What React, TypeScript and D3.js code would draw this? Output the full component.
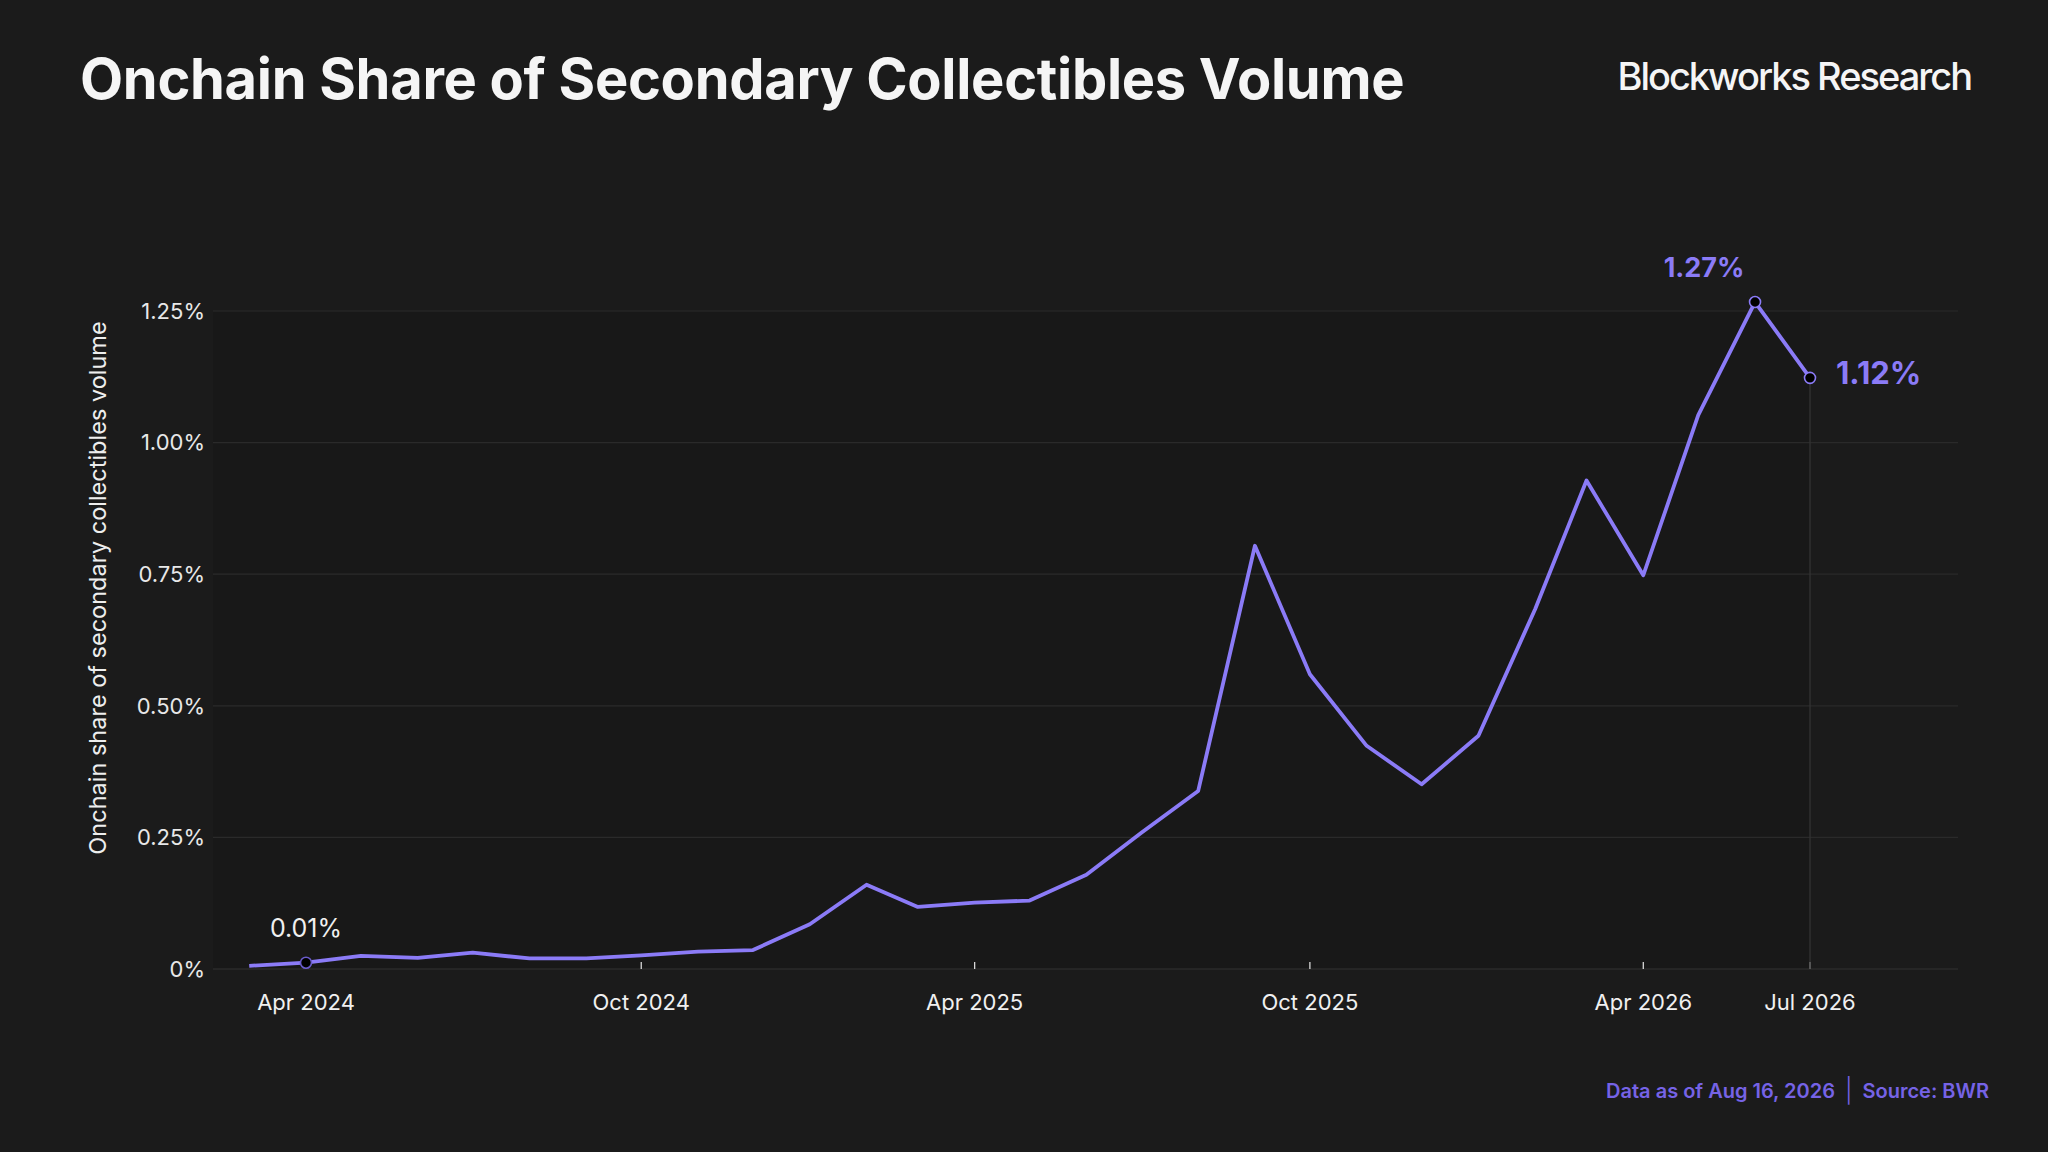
import * as d3 from "d3";

const WIDTH = 2048;
const HEIGHT = 1152;

// monthly onchain share of secondary collectibles volume, in percent
const months = [
  "2024-03", "2024-04", "2024-05", "2024-06", "2024-07", "2024-08", "2024-09",
  "2024-10", "2024-11", "2024-12", "2025-01", "2025-02", "2025-03", "2025-04",
  "2025-05", "2025-06", "2025-07", "2025-08", "2025-09", "2025-10", "2025-11",
  "2025-12", "2026-01", "2026-02", "2026-03", "2026-04", "2026-05", "2026-06",
  "2026-07",
];
const shares = [
  0.006, 0.012, 0.025, 0.021, 0.031, 0.02, 0.02, 0.026, 0.033, 0.036, 0.085,
  0.16, 0.118, 0.126, 0.13, 0.179, 0.259, 0.338, 0.804, 0.56, 0.424, 0.351,
  0.443, 0.684, 0.928, 0.748, 1.052, 1.267, 1.123,
];
const xTicks = ["2024-04", "2024-10", "2025-04", "2025-10", "2026-04", "2026-07"];
const yTicks = [0, 0.25, 0.5, 0.75, 1.0, 1.25];

const title = "Onchain Share of Secondary Collectibles Volume";
const brand = "Blockworks Research";
const yTitle = "Onchain share of secondary collectibles volume";
const footerDate = "Data as of Aug 16, 2026";
const footerSource = "Source: BWR";

const PURPLE = "#8b7bf7";
const FONT = "Inter, 'Noto Sans', sans-serif";

const parseMonth = d3.utcParse("%Y-%m");
const monthFmt = d3.utcFormat("%b %Y");
const pct = (v: number) => (v === 0 ? "0%" : `${d3.format(".2f")(v)}%`);

type Point = { date: Date; value: number };
const data: Point[] = months.map((m, i) => ({ date: parseMonth(m)!, value: shares[i] }));

const App = () => {
  const x = d3.scaleUtc(
    [parseMonth("2024-04")!, parseMonth("2026-07")!],
    [306, 1810]
  );
  const y = d3.scaleLinear([0, 1.25], [969, 311]);
  const plotLeft = 213;
  const plotRight = 1958;

  const line = d3.line<Point>(
    (d) => x(d.date),
    (d) => y(d.value)
  );

  const first = data[1];
  const peak = data.reduce((a, b) => (b.value > a.value ? b : a));
  const last = data[data.length - 1];

  return (
    <svg
      width={WIDTH}
      height={HEIGHT}
      style={{ position: "absolute", left: 0, top: 0, display: "block" }}
      fontFamily={FONT}
    >
      <rect width={WIDTH} height={HEIGHT} fill="#1b1b1b" />

      <text x={80} y={99} fill="#f5f5f5" fontSize={56} fontWeight={700} letterSpacing={-0.3}>
        {title}
      </text>
      <text
        x={1971}
        y={90}
        fill="#f5f5f5"
        fontSize={38}
        fontWeight={500}
        letterSpacing={-2}
        textAnchor="end"
      >
        {brand}
      </text>

      {/* shaded region up to the last observation */}
      <rect
        x={plotLeft}
        y={y(1.25)}
        width={x(last.date) - plotLeft}
        height={y(0) - y(1.25)}
        fill="#181818"
      />

      {yTicks.map((t) => (
        <g key={t}>
          <line
            x1={plotLeft}
            x2={plotRight}
            y1={y(t)}
            y2={y(t)}
            stroke={t === 0 ? "#333333" : "#2a2a2a"}
            strokeWidth={1.2}
          />
          <text
            x={205}
            y={y(t)}
            dy="0.35em"
            fill="#e8e8e8"
            fontSize={22}
            textAnchor="end"
          >
            {pct(t)}
          </text>
        </g>
      ))}

      <text
        transform={`translate(106,588) rotate(-90)`}
        fill="#eeeeee"
        fontSize={23.5}
        textAnchor="middle"
      >
        {yTitle}
      </text>

      {xTicks.map((t) => {
        const d = parseMonth(t)!;
        return (
          <g key={t}>
            <line x1={x(d)} x2={x(d)} y1={y(0) - 7} y2={y(0)} stroke="#d8d8d8" strokeWidth={1.3} />
            <text x={x(d)} y={1010} fill="#f0f0f0" fontSize={22} textAnchor="middle">
              {monthFmt(d)}
            </text>
          </g>
        );
      })}

      {/* guide from last point to axis */}
      <line
        x1={x(last.date)}
        x2={x(last.date)}
        y1={y(last.value)}
        y2={y(0)}
        stroke="#333333"
        strokeWidth={1.3}
      />

      <path
        d={line(data) ?? ""}
        fill="none"
        stroke={PURPLE}
        strokeWidth={3.8}
        strokeLinejoin="round"
      />

      {[first, peak, last].map((p, i) => (
        <circle
          key={i}
          cx={x(p.date)}
          cy={y(p.value)}
          r={5.5}
          fill="#000"
          stroke={i === 0 ? "#6a5ccc" : PURPLE}
          strokeWidth={1.6}
        />
      ))}

      <text
        x={x(first.date)}
        y={y(first.value) - 26}
        fill="#f0f0f0"
        fontSize={25}
        textAnchor="middle"
      >
        {pct(first.value)}
      </text>
      <text
        x={x(peak.date) - 51}
        y={y(peak.value) - 25}
        fill={PURPLE}
        fontSize={27}
        fontWeight={700}
        textAnchor="middle"
      >
        {pct(peak.value)}
      </text>
      <text
        x={x(last.date) + 26}
        y={y(last.value) + 6}
        fill={PURPLE}
        fontSize={31}
        fontWeight={700}
      >
        {pct(last.value)}
      </text>

      <text x={1989} y={1098} fill="#7663e6" fontSize={20} fontWeight={600} textAnchor="end">
        {footerDate}
        <tspan fontWeight={300} fontSize={24} dx={10} dy={1}>|</tspan>
        <tspan dx={10} dy={-1}>{footerSource}</tspan>
      </text>
    </svg>
  );
};

export default App;
